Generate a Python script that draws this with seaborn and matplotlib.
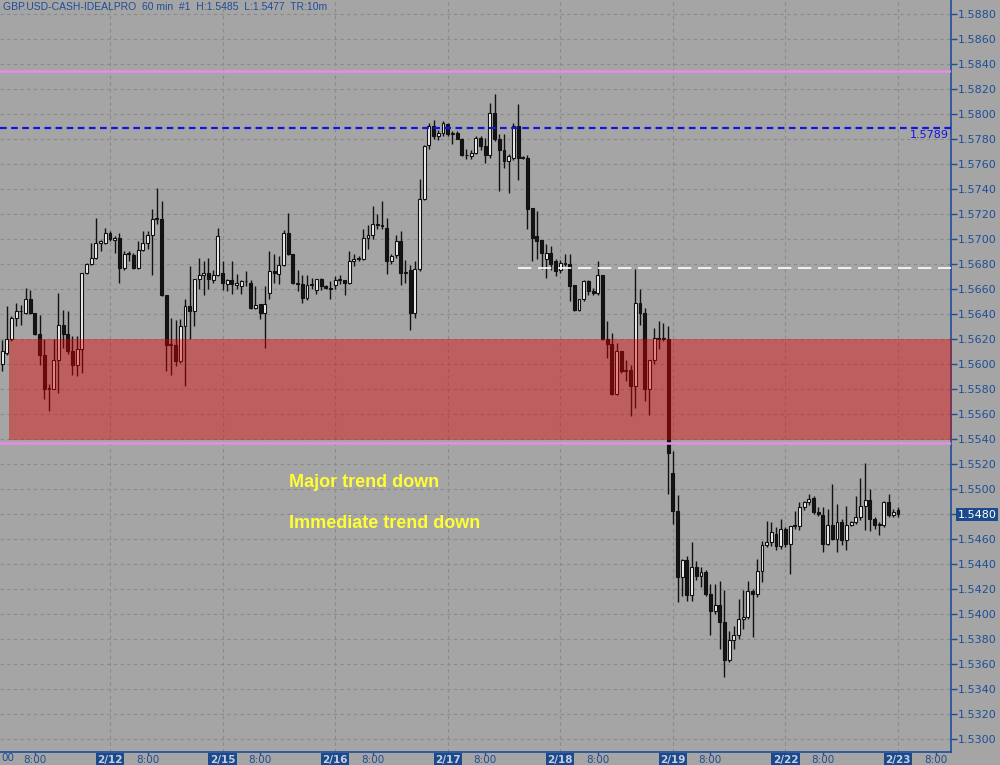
import numpy as np
import pandas as pd
import matplotlib
matplotlib.use("Agg")
import matplotlib.pyplot as plt
import matplotlib.transforms as mtransforms
import seaborn as sns

## chart data
title = "GBP.USD-CASH-IDEALPRO  60 min  #1  H:1.5485  L:1.5477  TR:10m"

opens = [1.5600,1.5609,1.5620,1.5637,1.5642,1.5641,1.5652,1.5641,1.5624,1.5607,1.5580,1.5580,
         1.5603,1.5631,1.5624,1.5610,1.5599,1.5612,1.5673,1.5680,1.5685,1.5697,1.5697,1.5705,
         1.5699,1.5701,1.5677,1.5688,1.5687,1.5677,1.5691,1.5697,1.5703,1.5716,1.5716,1.5655,
         1.5615,1.5615,1.5602,1.5630,1.5646,1.5642,1.5668,1.5671,1.5673,1.5667,1.5671,1.5673,
         1.5664,1.5667,1.5663,1.5662,1.5666,1.5665,1.5645,1.5648,1.5641,1.5657,1.5674,1.5672,
         1.5679,1.5705,1.5688,1.5665,1.5664,1.5653,1.5663,1.5659,1.5668,1.5662,1.5661,1.5663,
         1.5667,1.5667,1.5665,1.5682,1.5684,1.5684,1.5701,1.5703,1.5712,1.5711,1.5709,1.5682,
         1.5687,1.5698,1.5673,1.5675,1.5641,1.5676,1.5732,1.5775,1.5790,1.5782,1.5785,1.5792,
         1.5784,1.5785,1.5780,1.5767,1.5766,1.5769,1.5781,1.5774,1.5767,1.5801,1.5780,1.5771,
         1.5762,1.5765,1.5790,1.5765,1.5765,1.5725,1.5702,1.5699,1.5684,1.5689,1.5682,1.5675,
         1.5680,1.5680,1.5663,1.5643,1.5652,1.5666,1.5658,1.5657,1.5671,1.5620,1.5616,1.5576,
         1.5610,1.5594,1.5595,1.5582,1.5649,1.5641,1.5580,1.5603,1.5621,1.5620,1.5620,1.5513,
         1.5482,1.5429,1.5443,1.5415,1.5437,1.5430,1.5433,1.5416,1.5402,1.5407,1.5393,1.5363,
         1.5379,1.5383,1.5396,1.5397,1.5418,1.5416,1.5434,1.5455,1.5457,1.5464,1.5454,1.5468,
         1.5456,1.5470,1.5470,1.5485,1.5489,1.5493,1.5481,1.5479,1.5456,1.5471,1.5460,1.5473,
         1.5459,1.5471,1.5473,1.5477,1.5486,1.5491,1.5476,1.5471,1.5471,1.5489,1.5479,1.5483]

highs = [1.5619,1.5646,1.5638,1.5649,1.5647,1.5661,1.5659,1.5641,1.5639,1.5620,1.5584,1.5620,
         1.5657,1.5643,1.5642,1.5622,1.5622,1.5673,1.5681,1.5697,1.5717,1.5699,1.5709,1.5706,
         1.5702,1.5705,1.5690,1.5690,1.5689,1.5698,1.5706,1.5706,1.5724,1.5741,1.5730,1.5655,
         1.5637,1.5635,1.5636,1.5652,1.5678,1.5668,1.5685,1.5682,1.5685,1.5675,1.5709,1.5682,
         1.5668,1.5682,1.5672,1.5667,1.5674,1.5667,1.5662,1.5648,1.5662,1.5690,1.5688,1.5686,
         1.5707,1.5721,1.5688,1.5675,1.5671,1.5671,1.5669,1.5668,1.5669,1.5663,1.5666,1.5670,
         1.5671,1.5667,1.5690,1.5688,1.5686,1.5708,1.5711,1.5726,1.5720,1.5730,1.5717,1.5688,
         1.5703,1.5706,1.5683,1.5679,1.5682,1.5748,1.5775,1.5793,1.5795,1.5787,1.5794,1.5793,
         1.5786,1.5786,1.5781,1.5772,1.5771,1.5782,1.5782,1.5781,1.5809,1.5816,1.5784,1.5784,
         1.5768,1.5793,1.5808,1.5766,1.5767,1.5725,1.5722,1.5699,1.5696,1.5694,1.5684,1.5683,
         1.5688,1.5688,1.5663,1.5652,1.5667,1.5667,1.5661,1.5682,1.5671,1.5634,1.5625,1.5617,
         1.5610,1.5603,1.5599,1.5676,1.5660,1.5645,1.5603,1.5629,1.5634,1.5633,1.5630,1.5530,
         1.5495,1.5444,1.5446,1.5457,1.5442,1.5437,1.5435,1.5424,1.5424,1.5426,1.5419,1.5386,
         1.5390,1.5412,1.5419,1.5426,1.5420,1.5444,1.5458,1.5474,1.5473,1.5469,1.5476,1.5469,
         1.5470,1.5482,1.5489,1.5490,1.5496,1.5494,1.5485,1.5485,1.5484,1.5504,1.5488,1.5476,
         1.5486,1.5474,1.5494,1.5509,1.5521,1.5500,1.5477,1.5473,1.5490,1.5496,1.5484,1.5485]

lows = [1.5594,1.5607,1.5618,1.5630,1.5631,1.5640,1.5640,1.5623,1.5599,1.5572,1.5562,1.5580,
        1.5577,1.5613,1.5608,1.5591,1.5590,1.5593,1.5672,1.5679,1.5684,1.5690,1.5696,1.5698,
        1.5689,1.5665,1.5675,1.5682,1.5676,1.5676,1.5690,1.5692,1.5671,1.5712,1.5654,1.5594,
        1.5591,1.5598,1.5601,1.5582,1.5620,1.5630,1.5660,1.5655,1.5660,1.5665,1.5670,1.5659,
        1.5658,1.5656,1.5660,1.5656,1.5662,1.5644,1.5644,1.5636,1.5613,1.5652,1.5665,1.5664,
        1.5678,1.5687,1.5664,1.5658,1.5649,1.5651,1.5660,1.5656,1.5659,1.5660,1.5652,1.5660,
        1.5664,1.5655,1.5664,1.5678,1.5682,1.5683,1.5692,1.5700,1.5708,1.5708,1.5672,1.5680,
        1.5685,1.5663,1.5665,1.5627,1.5637,1.5674,1.5731,1.5772,1.5780,1.5779,1.5782,1.5782,
        1.5776,1.5780,1.5766,1.5764,1.5764,1.5768,1.5771,1.5761,1.5765,1.5778,1.5738,1.5757,
        1.5737,1.5763,1.5747,1.5764,1.5708,1.5682,1.5684,1.5676,1.5669,1.5675,1.5670,1.5673,
        1.5678,1.5650,1.5642,1.5642,1.5650,1.5655,1.5655,1.5655,1.5619,1.5605,1.5575,1.5575,
        1.5593,1.5586,1.5558,1.5565,1.5631,1.5570,1.5559,1.5600,1.5612,1.5618,1.5496,1.5472,
        1.5409,1.5414,1.5410,1.5410,1.5427,1.5421,1.5414,1.5383,1.5400,1.5372,1.5349,1.5361,
        1.5372,1.5380,1.5388,1.5396,1.5381,1.5413,1.5425,1.5453,1.5454,1.5451,1.5452,1.5453,
        1.5432,1.5468,1.5467,1.5483,1.5487,1.5480,1.5478,1.5449,1.5455,1.5459,1.5449,1.5455,
        1.5451,1.5470,1.5472,1.5475,1.5467,1.5466,1.5468,1.5463,1.5469,1.5477,1.5477,1.5477]

closes = [1.5610,1.5620,1.5637,1.5642,1.5642,1.5652,1.5641,1.5624,1.5607,1.5580,1.5580,1.5603,
          1.5631,1.5624,1.5610,1.5599,1.5612,1.5673,1.5680,1.5685,1.5697,1.5698,1.5705,1.5700,
          1.5701,1.5677,1.5688,1.5688,1.5677,1.5691,1.5697,1.5703,1.5716,1.5716,1.5655,1.5615,
          1.5615,1.5602,1.5630,1.5646,1.5642,1.5668,1.5671,1.5673,1.5668,1.5671,1.5702,1.5665,
          1.5667,1.5664,1.5665,1.5666,1.5666,1.5645,1.5647,1.5641,1.5648,1.5674,1.5673,1.5679,
          1.5705,1.5688,1.5665,1.5664,1.5653,1.5663,1.5663,1.5668,1.5662,1.5661,1.5660,1.5667,
          1.5667,1.5665,1.5682,1.5684,1.5684,1.5701,1.5703,1.5712,1.5711,1.5710,1.5682,1.5686,
          1.5698,1.5673,1.5673,1.5641,1.5676,1.5732,1.5774,1.5790,1.5782,1.5785,1.5793,1.5784,
          1.5785,1.5780,1.5767,1.5767,1.5769,1.5781,1.5774,1.5767,1.5801,1.5780,1.5771,1.5762,
          1.5766,1.5790,1.5765,1.5765,1.5724,1.5701,1.5698,1.5689,1.5689,1.5680,1.5674,1.5681,
          1.5680,1.5662,1.5643,1.5652,1.5666,1.5658,1.5657,1.5671,1.5620,1.5616,1.5576,1.5610,
          1.5594,1.5595,1.5582,1.5649,1.5641,1.5580,1.5603,1.5621,1.5620,1.5620,1.5529,1.5482,
          1.5429,1.5443,1.5415,1.5437,1.5430,1.5433,1.5416,1.5402,1.5407,1.5393,1.5363,1.5379,
          1.5383,1.5396,1.5397,1.5418,1.5416,1.5434,1.5455,1.5457,1.5465,1.5454,1.5468,1.5456,
          1.5470,1.5471,1.5485,1.5489,1.5492,1.5481,1.5480,1.5456,1.5471,1.5460,1.5473,1.5459,
          1.5471,1.5473,1.5477,1.5486,1.5491,1.5476,1.5471,1.5471,1.5489,1.5479,1.5481,1.5480]

day_bars = [24, 48, 72, 96, 120, 144, 168, 192]
day_labels = ["2/12", "2/15", "2/16", "2/17", "2/18", "2/19", "2/22", "2/23"]
hour_bars = [8, 32, 56, 80, 104, 128, 152, 176, 200]
hour_label = "8:00"

zone_low, zone_high = 1.5539, 1.5620
pink_levels = [1.5834, 1.5537]
blue_level = 1.5789
white_level = 1.5677
white_from = 111
last_price = 1.5480
notes = ["Major trend down", "Immediate trend down"]
note_prices = [1.5505, 1.5472]

BG = "#a5a5a5"
BLUE = "#1f4e96"

df = pd.DataFrame({"open": opens, "high": highs, "low": lows, "close": closes})
df["bar"] = np.arange(1, len(df) + 1)
df["up"] = df["close"] >= df["open"]
df["bottom"] = df[["open", "close"]].min(axis=1)
df["body"] = (df["close"] - df["open"]).abs().clip(lower=0.00005)

sns.set_theme(style="white", rc={"axes.facecolor": BG, "figure.facecolor": BG})
plt.rcParams["font.family"] = ["DejaVu Sans"]

fig = plt.figure(figsize=(10, 7.65), dpi=100)
ax = fig.add_axes([0, 1 - 752 / 765, 0.951, 752 / 765])
ax.set_facecolor(BG)

# candles
ax.vlines(df["bar"], df["low"], df["high"], color="#111111", lw=1, zorder=3)
ax.bar(df["bar"], df["body"], bottom=df["bottom"], width=0.62,
       color=np.where(df["up"], "#f2f2f2", "#151515"), edgecolor="#111111",
       linewidth=0.8, zorder=4)

# support zone + levels
ax.fill_between([2.4, 210], zone_low, zone_high, color="#e00000", alpha=0.42, lw=0, zorder=5)
for lv in pink_levels:
    ax.axhline(lv, color="#e48ee4", lw=1.8, zorder=6)
ax.axhline(blue_level, color="#1414e0", lw=1.6, ls=(0, (3, 2)), zorder=6)
ax.hlines(white_level, white_from, 210, colors="white", lw=1.2, linestyles=(0, (8, 4)), zorder=6)
trans = mtransforms.blended_transform_factory(ax.transAxes, ax.transData)
ax.text(0.998, blue_level - 0.0002, "1.5789", transform=trans, ha="right", va="top",
        color="#1414e0", fontsize=8)

for txt, p in zip(notes, note_prices):
    ax.text(62.2, p, txt, color="#ffff33", fontsize=13, fontweight="bold",
            family=["Liberation Sans", "DejaVu Sans"], va="center", ha="left", zorder=7)

# axes
ax.set_xlim(0.554, 203.3)
ax.set_ylim(1.52893, 1.58912)
price_ticks = np.round(np.arange(1.5300, 1.5881, 0.0020), 4)
ax.set_yticks(price_ticks)
ax.set_yticklabels([f"{p:.4f}" for p in price_ticks])
ax.yaxis.tick_right()
ax.tick_params(axis="y", which="major", right=True, left=False, length=4, width=1,
               color=BLUE, labelcolor=BLUE, labelsize=8, pad=1)

ax.set_xticks(day_bars)
ax.set_xticklabels(day_labels)
ax.set_xticks(hour_bars, minor=True)
ax.set_xticklabels([hour_label] * len(hour_bars), minor=True)
ax.tick_params(axis="x", which="both", bottom=True, length=2, width=1, color=BLUE,
               labelcolor=BLUE, labelsize=7.5, pad=0)
for lbl in ax.get_xticklabels():
    lbl.set_color("#c5cde0")
    lbl.set_fontweight("bold")
    lbl.set_bbox(dict(facecolor="#1b4a8c", edgecolor="none", pad=1.0))
for lbl in ax.get_yticklabels():
    if lbl.get_text() == f"{last_price:.4f}":
        lbl.set_color("white")
        lbl.set_bbox(dict(facecolor="#1b4a8c", edgecolor="none", pad=1.2))

ax.grid(True, axis="y", color="#8a8a8a", ls=(0, (3, 3)), lw=0.8)
ax.grid(True, axis="x", which="major", color="#8a8a8a", ls=(0, (3, 3)), lw=0.8)
ax.set_axisbelow(True)
for side in ["left", "top"]:
    ax.spines[side].set_visible(False)
for side in ["right", "bottom"]:
    ax.spines[side].set_visible(True)
    ax.spines[side].set_color(BLUE)
    ax.spines[side].set_linewidth(1.2)

fig.text(0.003, 1 - 7 / 765, title, color=BLUE, fontsize=7.5, va="center", ha="left",
         family=["Liberation Sans", "DejaVu Sans"])
fig.text(0.001, 1 - 758 / 765, "00", color=BLUE, fontsize=7.5, va="center", ha="left")

fig.savefig("out.png", dpi=100, facecolor=BG)
